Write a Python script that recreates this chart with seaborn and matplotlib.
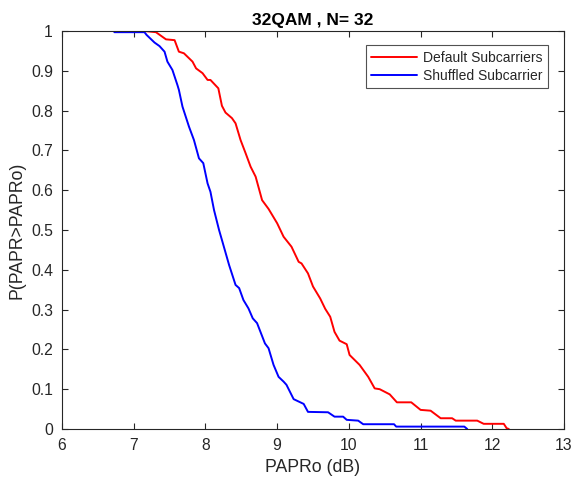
import matplotlib
matplotlib.use("Agg")
import matplotlib.pyplot as plt
import pandas as pd
import seaborn as sns

# CCDF readings (PAPRo in dB, probability)
default_papr = [7.15, 7.31, 7.45, 7.57, 7.63, 7.70, 7.82, 7.87, 7.96, 8.03, 8.07,
                8.18, 8.23, 8.28, 8.37, 8.42, 8.49, 8.56, 8.63, 8.70, 8.79, 8.88,
                9.00, 9.09, 9.20, 9.30, 9.34, 9.43, 9.50, 9.60, 9.67, 9.74, 9.80,
                9.87, 9.97, 10.01, 10.15, 10.27, 10.36, 10.43, 10.57, 10.67, 10.87,
                11.00, 11.14, 11.28, 11.44, 11.49, 11.79, 11.88, 12.16, 12.20, 12.23]
default_prob = [1.0, 0.997, 0.979, 0.977, 0.948, 0.944, 0.923, 0.906, 0.894, 0.877, 0.877,
                0.856, 0.812, 0.795, 0.781, 0.768, 0.726, 0.693, 0.659, 0.634, 0.575, 0.553,
                0.517, 0.483, 0.458, 0.420, 0.416, 0.391, 0.358, 0.328, 0.302, 0.282, 0.244,
                0.222, 0.213, 0.186, 0.161, 0.131, 0.102, 0.100, 0.087, 0.067, 0.067,
                0.048, 0.046, 0.027, 0.027, 0.021, 0.021, 0.013, 0.013, 0.002, 0.0]

shuffled_papr = [6.73, 7.15, 7.18, 7.29, 7.36, 7.43, 7.47, 7.54, 7.61, 7.63, 7.68,
                 7.77, 7.84, 7.91, 7.97, 8.03, 8.07, 8.12, 8.19, 8.23, 8.33, 8.42,
                 8.47, 8.53, 8.60, 8.66, 8.72, 8.83, 8.88, 8.95, 9.02, 9.09, 9.13,
                 9.23, 9.37, 9.43, 9.71, 9.80, 9.92, 9.97, 10.13, 10.20, 10.63,
                 10.66, 11.61, 11.65]
shuffled_prob = [0.997, 0.997, 0.990, 0.971, 0.962, 0.948, 0.923, 0.902, 0.864, 0.852, 0.810,
                 0.760, 0.726, 0.680, 0.668, 0.617, 0.596, 0.550, 0.500, 0.475, 0.412, 0.362,
                 0.354, 0.324, 0.303, 0.278, 0.266, 0.215, 0.203, 0.161, 0.131, 0.119, 0.111,
                 0.075, 0.063, 0.043, 0.042, 0.031, 0.031, 0.023, 0.021, 0.012, 0.012,
                 0.006, 0.006, 0.0]

series_names = ["Default Subcarriers", "Shuffled Subcarrier"]
x_ticks = [6, 7, 8, 9, 10, 11, 12, 13]
y_ticks = [0, 0.1, 0.2, 0.3, 0.4, 0.5, 0.6, 0.7, 0.8, 0.9, 1]
y_tick_labels = ["0", "0.1", "0.2", "0.3", "0.4", "0.5", "0.6", "0.7", "0.8", "0.9", "1"]

df = pd.concat([
    pd.DataFrame({"papr": default_papr, "prob": default_prob, "series": series_names[0]}),
    pd.DataFrame({"papr": shuffled_papr, "prob": shuffled_prob, "series": series_names[1]}),
], ignore_index=True)

sns.set_style("white")
plt.rcParams["font.family"] = ["Liberation Sans", "DejaVu Sans"]

fig = plt.figure(figsize=(5.74, 4.79), dpi=100)
ax = fig.add_axes([0.108, 0.1044, 0.8746, 0.8309])

sns.lineplot(data=df, x="papr", y="prob", hue="series", estimator=None, sort=False,
             palette=["#ff0000", "#0000ff"], linewidth=1.4, ax=ax)

ax.set_xlim(6, 13)
ax.set_ylim(0, 1)
ax.set_xticks(x_ticks)
ax.set_xticklabels([str(t) for t in x_ticks])
ax.set_yticks(y_ticks)
ax.set_yticklabels(y_tick_labels)
ax.tick_params(direction="in", length=4, width=0.8, labelsize=11.3, pad=6.5,
               colors="#262626", left=True, bottom=True, top=True, right=True,
               labeltop=False, labelright=False)
for side in ["left", "bottom", "top", "right"]:
    ax.spines[side].set_visible(True)
    ax.spines[side].set_color("#262626")
    ax.spines[side].set_linewidth(0.8)

ax.set_xlabel("PAPRo (dB)", fontsize=12.7, color="#262626", labelpad=4)
ax.set_ylabel("P(PAPR>PAPRo)", fontsize=12.7, color="#262626", labelpad=4)
ax.set_title("32QAM , N= 32", fontsize=12.5, fontweight="bold", color="#000000", pad=4.5)

leg = ax.legend(loc="upper right", bbox_to_anchor=(0.9675, 0.9648), borderaxespad=0,
                fontsize=10, frameon=True, fancybox=False, handlelength=3.3,
                handletextpad=0.4, borderpad=0.4, labelspacing=0.3)
leg.get_frame().set_edgecolor("#262626")
leg.get_frame().set_linewidth(0.8)

fig.savefig("out.png", dpi=100)
